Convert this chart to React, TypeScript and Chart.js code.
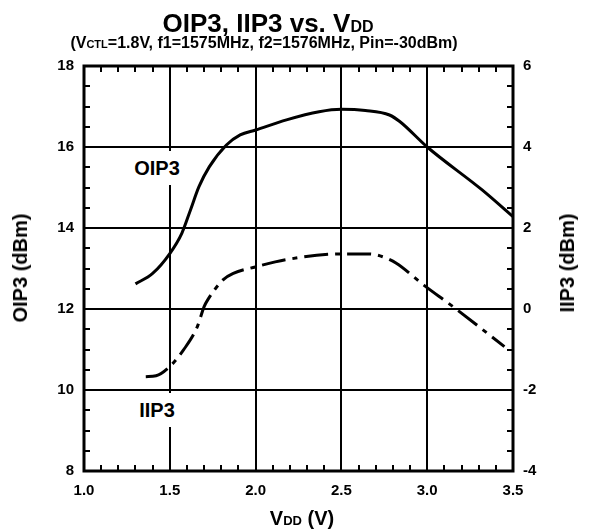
import React, { useEffect, useRef } from "react";
import { Chart, registerables } from "chart.js";

Chart.register(...registerables);

// ---- data ----
const oip3Vdd = [1.30, 1.40, 1.50, 1.57, 1.62, 1.67, 1.73, 1.83, 1.91, 2.00, 2.18, 2.37, 2.50, 2.64, 2.78, 2.84, 3.00, 3.32, 3.50];
const oip3Values = [12.62, 12.88, 13.37, 13.87, 14.44, 15.02, 15.51, 16.05, 16.30, 16.42, 16.67, 16.87, 16.93, 16.90, 16.79, 16.63, 16.00, 14.94, 14.28];
const iip3Vdd = [1.36, 1.42, 1.50, 1.58, 1.66, 1.70, 1.72, 1.81, 1.87, 2.00, 2.18, 2.50, 2.66, 2.74, 2.82, 2.98, 3.15, 3.45];
const iip3Values = [-1.67, -1.65, -1.42, -1.01, -0.44, 0.06, 0.22, 0.72, 0.88, 1.04, 1.22, 1.36, 1.36, 1.29, 1.13, 0.59, 0.06, -0.93];

const xTicks = [1.0, 1.5, 2.0, 2.5, 3.0, 3.5];
const leftTicks = [8, 10, 12, 14, 16, 18];
const rightTicks = [-4, -2, 0, 2, 4, 6];

const FONT = "'Liberation Sans', Arial, Helvetica, sans-serif";

const frameAndMinorTicks = {
  id: "frameAndMinorTicks",
  afterDraw(chart: any) {
    const { ctx, chartArea, scales } = chart;
    const { left, right, top, bottom } = chartArea;
    const x = scales.x;
    const y = scales.y;
    ctx.save();
    ctx.strokeStyle = "#000";
    ctx.lineWidth = 2;
    ctx.beginPath();
    for (let i = 11; i < 35; i++) {
      if (i % 5 === 0) continue;
      const px = Math.round(x.getPixelForValue(i / 10));
      ctx.moveTo(px, bottom);
      ctx.lineTo(px, bottom - 6);
      ctx.moveTo(px, top);
      ctx.lineTo(px, top + 6);
    }
    for (let j = 17; j < 36; j++) {
      if (j % 4 === 0) continue;
      const py = Math.round(y.getPixelForValue(j / 2));
      ctx.moveTo(left, py);
      ctx.lineTo(left + 6, py);
      ctx.moveTo(right, py);
      ctx.lineTo(right - 6, py);
    }
    ctx.stroke();
    ctx.lineWidth = 3;
    ctx.strokeRect(left, top, right - left, bottom - top);
    ctx.restore();
  },
};

export default function App() {
  const ref = useRef<HTMLCanvasElement | null>(null);

  useEffect(() => {
    if (!ref.current) return;
    const chart = new Chart(ref.current, {
      type: "line",
      data: {
        datasets: [
          {
            label: "OIP3",
            data: oip3Vdd.map((v, i) => ({ x: v, y: oip3Values[i] })),
            borderColor: "#000",
            borderWidth: 3,
            pointRadius: 0,
            cubicInterpolationMode: "monotone",
            yAxisID: "y",
            fill: false,
          },
          {
            label: "IIP3",
            data: iip3Vdd.map((v, i) => ({ x: v, y: iip3Values[i] })),
            borderColor: "#000",
            borderWidth: 3,
            borderDash: [24, 7, 5, 7],
            pointRadius: 0,
            cubicInterpolationMode: "monotone",
            yAxisID: "y1",
            fill: false,
          },
        ],
      },
      options: {
        responsive: false,
        animation: false,
        devicePixelRatio: 1,
        layout: { padding: { top: 66, left: 0, right: 0, bottom: 0 } },
        plugins: {
          legend: { display: false },
          tooltip: { enabled: false },
          title: { display: false },
        },
        scales: {
          x: {
            type: "linear",
            min: 1.0,
            max: 3.5,
            afterBuildTicks: (s: any) => {
              s.ticks = xTicks.map((v) => ({ value: v }));
            },
            afterFit: (s: any) => {
              s.height = 58;
            },
            ticks: {
              callback: (v: any) => Number(v).toFixed(1),
              color: "#000",
              font: { family: FONT, size: 15, weight: "bold" },
              padding: 11,
              maxRotation: 0,
              autoSkip: false,
            },
            grid: { color: "#000", lineWidth: 2, drawTicks: false },
            border: { display: false },
          },
          y: {
            type: "linear",
            position: "left",
            min: 8,
            max: 18,
            afterBuildTicks: (s: any) => {
              s.ticks = leftTicks.map((v) => ({ value: v }));
            },
            afterFit: (s: any) => {
              s.width = 84;
            },
            ticks: {
              color: "#000",
              font: { family: FONT, size: 15, weight: "bold" },
              padding: 10,
              autoSkip: false,
            },
            grid: { color: "#000", lineWidth: 2, drawTicks: false },
            border: { display: false },
          },
          y1: {
            type: "linear",
            position: "right",
            min: -4,
            max: 6,
            afterBuildTicks: (s: any) => {
              s.ticks = rightTicks.map((v) => ({ value: v }));
            },
            afterFit: (s: any) => {
              s.width = 77;
            },
            ticks: {
              color: "#000",
              font: { family: FONT, size: 15, weight: "bold" },
              padding: 10,
              autoSkip: false,
            },
            grid: { display: false, drawTicks: false },
            border: { display: false },
          },
        },
      },
      plugins: [frameAndMinorTicks],
    } as any);
    return () => chart.destroy();
  }, []);

  const base: React.CSSProperties = {
    position: "absolute",
    fontFamily: FONT,
    fontWeight: "bold",
    color: "#000",
    whiteSpace: "nowrap",
  };

  return (
    <div style={{ position: "fixed", left: 0, top: 0, width: 590, height: 529, background: "#fff" }}>
      <canvas ref={ref} width={590} height={529} style={{ position: "absolute", left: 0, top: 0, width: 590, height: 529 }} />
      <div style={{ ...base, left: 268, top: 10, fontSize: 26, lineHeight: "26px", transform: "translateX(-50%)" }}>
        OIP3, IIP3 vs. V<span style={{ fontSize: 16 }}>DD</span>
      </div>
      <div style={{ ...base, left: 264, top: 35, fontSize: 16, lineHeight: "16px", transform: "translateX(-50%)" }}>
        (V<span style={{ fontSize: 11 }}>CTL</span>=1.8V, f1=1575MHz, f2=1576MHz, Pin=-30dBm)
      </div>
      <div style={{ ...base, left: 302, top: 508, fontSize: 20, lineHeight: "20px", transform: "translateX(-50%)" }}>
        V<span style={{ fontSize: 13 }}>DD</span> (V)
      </div>
      <div style={{ ...base, left: 20, top: 268, fontSize: 20, lineHeight: "20px", transform: "translate(-50%, -50%) rotate(-90deg)" }}>
        OIP3 (dBm)
      </div>
      <div style={{ ...base, left: 567, top: 263, fontSize: 20, lineHeight: "20px", transform: "translate(-50%, -50%) rotate(-90deg)" }}>
        IIP3 (dBm)
      </div>
      <div style={{ ...base, left: 157, top: 168, fontSize: 20, lineHeight: "20px", padding: "7px 3px", background: "#fff", transform: "translate(-50%, -50%)" }}>
        OIP3
      </div>
      <div style={{ ...base, left: 157, top: 410, fontSize: 20, lineHeight: "20px", padding: "7px 3px", background: "#fff", transform: "translate(-50%, -50%)" }}>
        IIP3
      </div>
    </div>
  );
}
